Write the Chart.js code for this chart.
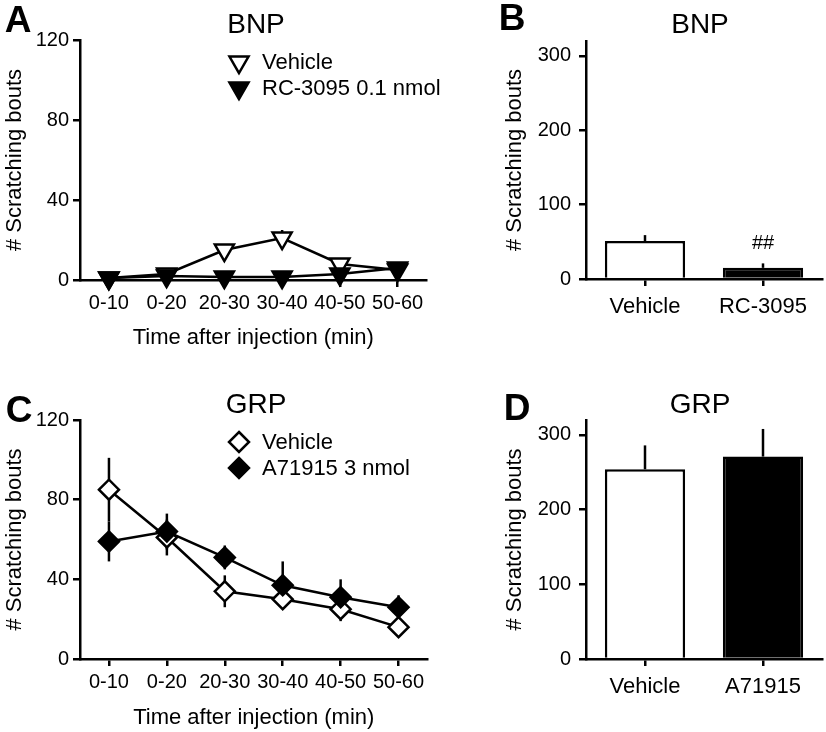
<!DOCTYPE html>
<html>
<head>
<meta charset="utf-8">
<script src="https://cdn.jsdelivr.net/npm/chart.js@4.4.0/dist/chart.umd.min.js"></script>
<style>
  html, body { margin: 0; padding: 0; background: #fff; }
  body { width: 826px; height: 732px; position: relative; overflow: hidden; }
  canvas { position: absolute; display: block; }
</style>
</head>
<body>
<canvas id="chartA" width="440" height="352" style="left:0;top:0"></canvas>
<canvas id="chartB" width="326" height="352" style="left:500px;top:0"></canvas>
<canvas id="chartC" width="440" height="352" style="left:0;top:380px"></canvas>
<canvas id="chartD" width="326" height="352" style="left:500px;top:380px"></canvas>
<script>
// data
const timeBins = ['0-10', '0-20', '20-30', '30-40', '40-50', '50-60'];
const lineTicks = [0, 40, 80, 120];
const barTicks = [0, 100, 200, 300];

const bnpVehicle = [1, 3, 15, 21, 8, 5];
const bnpVehicleSem = [0.5, 1, 3, 4, 2, 1];
const bnpRc3095 = [1, 2, 1.5, 1.5, 3, 6];
const bnpRc3095Sem = [0.5, 1, 0.5, 0.5, 1, 3];

const grpVehicle = [85, 61, 34, 30, 25, 16];
const grpVehicleSem = [16, 9, 8, 4, 6, 5];
const grpA71915 = [59, 64, 51, 37, 31, 26];
const grpA71915Sem = [10, 9, 6, 12, 9, 6];

const bnpGroups = ['Vehicle', 'RC-3095'];
const bnpTotals = [51, 15];
const bnpTotalsSem = [8, 6];
const bnpMarks = ['', '##'];

const grpGroups = ['Vehicle', 'A71915'];
const grpTotals = [254, 271];
const grpTotalsSem = [32, 37];

const FONT = '"Liberation Sans", Arial, Helvetica, sans-serif';
const LW = 2.5;
Chart.defaults.font.family = FONT;
Chart.defaults.color = '#000';
Chart.defaults.animation = false;
Chart.defaults.plugins.legend.display = false;
Chart.defaults.plugins.tooltip.enabled = false;

// draw a marker shape (used by the legend)
function drawMarker(ctx, style, x, y, r, fill) {
    ctx.save();
    ctx.beginPath();
    if (style === 'triangle') {
        // pointing down
        ctx.moveTo(x, y + r);
        ctx.lineTo(x - r * Math.sqrt(3) / 2, y - r / 2);
        ctx.lineTo(x + r * Math.sqrt(3) / 2, y - r / 2);
    } else {
        ctx.moveTo(x, y - r);
        ctx.lineTo(x + r, y);
        ctx.lineTo(x, y + r);
        ctx.lineTo(x - r, y);
    }
    ctx.closePath();
    ctx.fillStyle = fill;
    ctx.fill();
    ctx.lineWidth = LW;
    ctx.strokeStyle = '#000';
    ctx.stroke();
    ctx.restore();
}

// error bars from each dataset's sem array
const errorBars = {
    id: 'errorBars',
    beforeDatasetsDraw(chart, args, opts) { if (!opts.upOnly) drawErrors(chart, false); },
    afterDatasetsDraw(chart, args, opts) { if (opts.upOnly) drawErrors(chart, true); }
};
function drawErrors(chart, upOnly) {
    const ctx = chart.ctx;
    const y = chart.scales.y;
    ctx.save();
    ctx.strokeStyle = '#000';
    ctx.lineWidth = LW;
    chart.data.datasets.forEach((ds, i) => {
        if (!ds.sem) return;
        chart.getDatasetMeta(i).data.forEach((el, j) => {
            const v = ds.data[j], e = ds.sem[j];
            ctx.beginPath();
            ctx.moveTo(el.x, y.getPixelForValue(v + e));
            ctx.lineTo(el.x, y.getPixelForValue(upOnly ? v : v - e));
            ctx.stroke();
        });
    });
    ctx.restore();
}

// panel letter, panel title, legend and significance marks
const panelText = {
    id: 'panelText',
    afterDraw(chart, args, o) {
        const ctx = chart.ctx;
        ctx.save();
        ctx.fillStyle = '#000';
        ctx.textBaseline = 'alphabetic';
        ctx.textAlign = 'center';
        ctx.font = 'bold 37px ' + FONT;
        ctx.fillText(o.letter, o.letterX, o.letterY);
        ctx.font = '28px ' + FONT;
        ctx.fillText(o.title, o.titleX, o.titleY);

        if (o.legend) {
            ctx.font = '22px ' + FONT;
            ctx.textAlign = 'left';
            ctx.textBaseline = 'middle';
            chart.data.datasets.forEach((ds, i) => {
                const cy = o.legend.y + i * o.legend.gap;
                drawMarker(ctx, ds.pointStyle, o.legend.x, cy, ds.pointRadius, ds.pointBackgroundColor);
                ctx.fillStyle = '#000';
                ctx.fillText(ds.label, o.legend.textX, cy + 1);
            });
        }

        if (o.marks) {
            ctx.font = '20px ' + FONT;
            ctx.textAlign = 'center';
            ctx.textBaseline = 'middle';
            const ds = chart.data.datasets[0];
            const meta = chart.getDatasetMeta(0);
            o.marks.forEach((m, j) => {
                if (!m) return;
                const top = chart.scales.y.getPixelForValue(ds.data[j] + ds.sem[j]);
                ctx.fillText(m, meta.data[j].x, top - 20);
            });
        }
        ctx.restore();
    }
};

function axisStyle() {
    return {
        grid: { display: true, drawOnChartArea: false, drawTicks: true, tickLength: 7, lineWidth: LW, color: '#000', offset: false },
        border: { display: true, width: LW, color: '#000' }
    };
}

function yAxis(max, tickValues, width, pad) {
    return Object.assign(axisStyle(), {
        min: 0,
        max: max,
        afterBuildTicks: s => { s.ticks = tickValues.map(v => ({ value: v })); },
        afterFit: s => { s.width = width; },
        ticks: { font: { size: 20 }, padding: pad },
        title: { display: true, text: '# Scratching bouts', font: { size: 22 }, padding: { top: 2, bottom: 0 } }
    });
}

function xAxis(height, fontSize, pad, title) {
    return Object.assign(axisStyle(), {
        type: 'category',
        offset: true,
        afterFit: s => { s.height = height; },
        ticks: { font: { size: fontSize }, padding: pad, maxRotation: 0, autoSkip: false },
        title: title
            ? { display: true, text: title, font: { size: 22 }, padding: { top: 0, bottom: 1 } }
            : { display: false }
    });
}

function lineSet(label, values, sem, style, fill, order) {
    return {
        label: label,
        data: values,
        sem: sem,
        order: order,
        borderColor: '#000',
        borderWidth: LW,
        tension: 0,
        clip: false,
        pointStyle: style,
        pointRotation: style === 'triangle' ? 180 : 0,
        pointRadius: style === 'triangle' ? 11 : 10,
        pointBorderWidth: LW,
        pointBorderColor: '#000',
        pointBackgroundColor: fill
    };
}

function lineChart(id, sets, o) {
    return new Chart(document.getElementById(id), {
        type: 'line',
        data: { labels: timeBins, datasets: sets },
        options: {
            responsive: false,
            layout: { padding: { left: 0, top: o.top, right: 3, bottom: 0 } },
            scales: {
                x: xAxis(352 - o.bottom, 20, 4, 'Time after injection (min)'),
                y: yAxis(120, lineTicks, 80, 4)
            },
            plugins: { errorBars: { upOnly: false }, panelText: o.text }
        },
        plugins: [errorBars, panelText]
    });
}

function barChart(id, groups, values, sem, o) {
    return new Chart(document.getElementById(id), {
        type: 'bar',
        data: {
            labels: groups,
            datasets: [{
                data: values,
                sem: sem,
                backgroundColor: ['#fff', '#000'],
                borderColor: '#000',
                borderWidth: LW,
                barPercentage: 0.68,
                categoryPercentage: 1
            }]
        },
        options: {
            responsive: false,
            layout: { padding: { left: 0, top: o.top, right: 4, bottom: 0 } },
            scales: {
                x: xAxis(352 - o.bottom, 22, 8, null),
                y: yAxis(320, barTicks, 86, 8)
            },
            plugins: { errorBars: { upOnly: true }, panelText: o.text }
        },
        plugins: [errorBars, panelText]
    });
}

lineChart('chartA', [
    lineSet('Vehicle', bnpVehicle, bnpVehicleSem, 'triangle', '#fff', 1),
    lineSet('RC-3095 0.1 nmol', bnpRc3095, bnpRc3095Sem, 'triangle', '#000', 0)
], {
    top: 40, bottom: 280,
    text: { letter: 'A', letterX: 18, letterY: 32, title: 'BNP', titleX: 256, titleY: 33,
            legend: { x: 239, textX: 262, y: 62, gap: 26 } }
});

barChart('chartB', bnpGroups, bnpTotals, bnpTotalsSem, {
    top: 41, bottom: 279,
    text: { letter: 'B', letterX: 12, letterY: 30, title: 'BNP', titleX: 200, titleY: 33, marks: bnpMarks }
});

lineChart('chartC', [
    lineSet('Vehicle', grpVehicle, grpVehicleSem, 'rectRot', '#fff', 1),
    lineSet('A71915 3 nmol', grpA71915, grpA71915Sem, 'rectRot', '#000', 0)
], {
    top: 40, bottom: 279,
    text: { letter: 'C', letterX: 19, letterY: 42, title: 'GRP', titleX: 256, titleY: 33,
            legend: { x: 239, textX: 262, y: 62, gap: 26 } }
});

barChart('chartD', grpGroups, grpTotals, grpTotalsSem, {
    top: 40, bottom: 279,
    text: { letter: 'D', letterX: 17, letterY: 40, title: 'GRP', titleX: 200, titleY: 33 }
});
</script>
</body>
</html>
